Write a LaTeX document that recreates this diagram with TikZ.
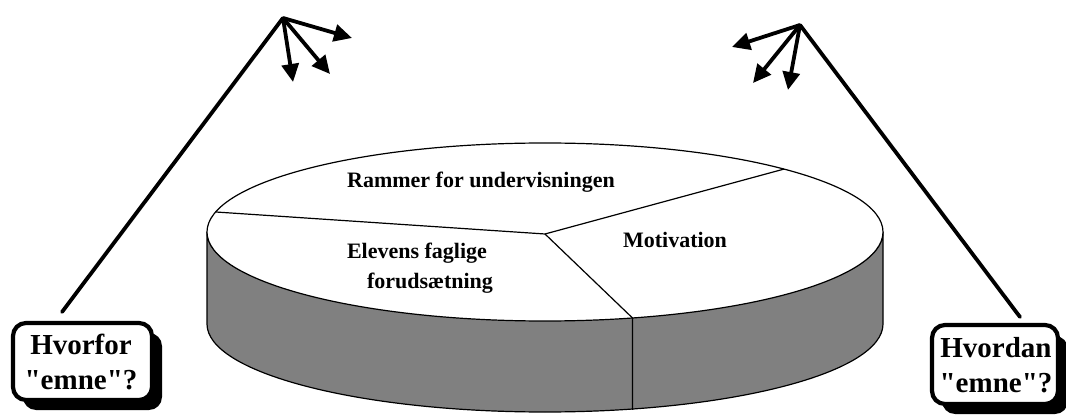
\documentclass[tikz,border=0pt]{standalone}
\usepackage{fontspec}
\setmainfont{Liberation Serif}[Ligatures=TeXOff]
\usetikzlibrary{arrows.meta,calc}
\begin{document}
\begin{tikzpicture}[x=1pt,y=1pt,
  pietext/.style={font=\fontsize{22}{25}\selectfont\bfseries, inner sep=0pt},
  boxtext/.style={font=\fontsize{29}{35}\selectfont\bfseries, align=center, inner sep=0pt},
  qbox/.style={draw=black, line width=4.2pt, fill=white, rounded corners=13pt},
  shadowbox/.style={fill=black, rounded corners=13pt},
  stroke/.style={line width=3.8pt, line cap=round},
  arr/.style={line width=3.8pt, -{Triangle[length=18pt,width=17pt]}}]
\useasboundingbox (0,0) rectangle (1066,418);
% pie side
\coordinate (c) at (545,186);
\fill[fill={rgb,255:red,128;green,128;blue,128}, draw=black, line width=1.2pt]
  (207,186) arc[start angle=180,end angle=360,x radius=338,y radius=88]
  -- (883,94) arc[start angle=0,end angle=-180,x radius=338,y radius=88] -- cycle;
% top ellipse
\draw[fill=white, line width=1.2pt] (c) ellipse[x radius=338, y radius=89];
\coordinate (pc) at (545,184);
\coordinate (pl) at ($(c)+(167:338 and 89)$);
\coordinate (pr) at ($(c)+(45:338 and 89)$);
\coordinate (pb) at ($(c)+(285:338 and 89)$);
\coordinate (pbb) at ($(pb)+(0,-92)$);
\draw[line width=1.2pt] (pl) -- (pc) -- (pr);
\draw[line width=1.2pt] (pc) -- (pb) -- (pbb);
% texts
\node[pietext] (t1) at (481,236) {Rammer for undervisningen};
\node[pietext] (t2) at (417,165) {Elevens faglige};
\node[pietext] (t3) at (430,135) {forudsætning};
\node[pietext] (t4) at (675,178) {Motivation};
% boxes
\fill[shadowbox] (23,8) rectangle (162,85);
\draw[qbox] (13,18) rectangle (152,95);
\node[boxtext] (b1) at (81,56) {Hvorfor\\"emne"?};
\fill[shadowbox] (942,4) rectangle (1068,82);
\draw[qbox] (932,14) rectangle (1058,93);
\node[boxtext] (b2) at (996,53) {Hvordan\\"emne"?};
% lines
\coordinate (la) at (283,400);
\coordinate (ra) at (800,393);
\coordinate (lb) at (62,106);
\coordinate (rb) at (1020,101);
\draw[stroke] (lb) -- (la);
\draw[stroke] (ra) -- (rb);
\coordinate (l1) at (352,380);
\coordinate (l2) at (293,336);
\coordinate (l3) at (330,344);
\coordinate (r1) at (732,371);
\coordinate (r2) at (753,335);
\coordinate (r3) at (788,328);
\draw[arr] (la) -- (l1);
\draw[arr] (la) -- (l2);
\draw[arr] (la) -- (l3);
\draw[arr] (ra) -- (r1);
\draw[arr] (ra) -- (r2);
\draw[arr] (ra) -- (r3);
\end{tikzpicture}
\end{document}
